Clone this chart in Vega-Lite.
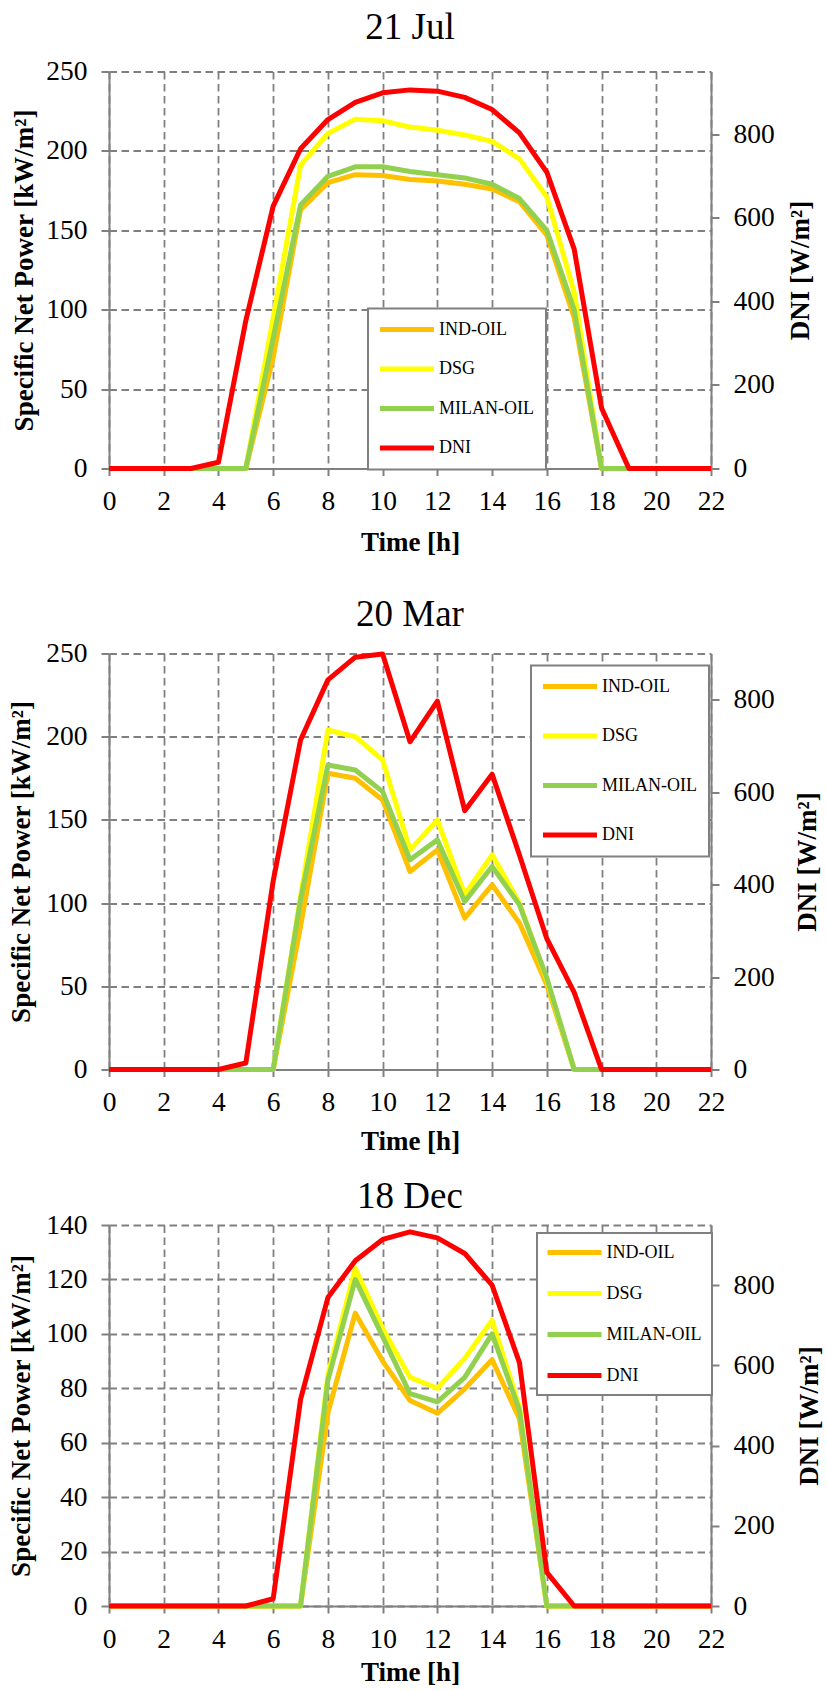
{
  "$schema": "https://vega.github.io/schema/vega-lite/v6.json",
  "background": "white",
  "padding": {"left": 7, "top": 8.5, "right": 5, "bottom": 0},
  "config": {
    "font": "Liberation Serif",
    "view": {"stroke": null},
    "style": {"guide-label": {"font": "Liberation Serif"}, "guide-title": {"font": "Liberation Serif"}},
    "axis": {
      "labelFont": "Liberation Serif", "labelFontSize": 27.5, "labelColor": "black",
      "titleFont": "Liberation Serif", "titleFontSize": 27, "titleFontWeight": "bold", "titleColor": "black",
      "domainColor": "#808080", "domainWidth": 2, "tickColor": "#808080", "tickWidth": 2,
      "gridColor": "#808080", "gridWidth": 1.8, "gridDash": [7.5, 4.5], "gridOpacity": 1,
      "labelFlush": false, "labelOverlap": false
    },
    "title": {"font": "Liberation Serif", "fontSize": 37, "fontWeight": "normal", "color": "black", "frame": "group", "baseline": "alphabetic", "anchor": "middle"},
    "legend": {
      "orient": "none", "title": null, "symbolType": "M-5,0H5", "symbolSize": 116.6, "symbolStrokeWidth": 5,
      "symbolOffset": 18, "labelOffset": 23, "labelFont": "Liberation Serif", "labelFontSize": 18, "labelColor": "black",
      "fillColor": "white", "strokeColor": "#808080", "strokeWidth": 2
    },
    "line": {"strokeWidth": 5, "strokeJoin": "round"}
  },
  "datasets": {
    "jul": [
      {"hour": 0, "IND-OIL": 0, "DSG": 0, "MILAN-OIL": 0, "DNI": 0},
      {"hour": 1, "IND-OIL": 0, "DSG": 0, "MILAN-OIL": 0, "DNI": 0},
      {"hour": 2, "IND-OIL": 0, "DSG": 0, "MILAN-OIL": 0, "DNI": 0},
      {"hour": 3, "IND-OIL": 0, "DSG": 0, "MILAN-OIL": 0, "DNI": 0},
      {"hour": 4, "IND-OIL": 0, "DSG": 0, "MILAN-OIL": 0, "DNI": 15},
      {"hour": 5, "IND-OIL": 0, "DSG": 0, "MILAN-OIL": 0, "DNI": 354},
      {"hour": 6, "IND-OIL": 70, "DSG": 95, "MILAN-OIL": 82, "DNI": 628},
      {"hour": 7, "IND-OIL": 163, "DSG": 191, "MILAN-OIL": 166, "DNI": 765},
      {"hour": 8, "IND-OIL": 180, "DSG": 211, "MILAN-OIL": 184, "DNI": 835},
      {"hour": 9, "IND-OIL": 185, "DSG": 220, "MILAN-OIL": 190, "DNI": 876},
      {"hour": 10, "IND-OIL": 184.5, "DSG": 219, "MILAN-OIL": 190, "DNI": 899},
      {"hour": 11, "IND-OIL": 182, "DSG": 215, "MILAN-OIL": 187, "DNI": 906},
      {"hour": 12, "IND-OIL": 181, "DSG": 213, "MILAN-OIL": 185, "DNI": 903},
      {"hour": 13, "IND-OIL": 179, "DSG": 210, "MILAN-OIL": 183, "DNI": 888},
      {"hour": 14, "IND-OIL": 176, "DSG": 206, "MILAN-OIL": 179, "DNI": 859},
      {"hour": 15, "IND-OIL": 168, "DSG": 195, "MILAN-OIL": 170, "DNI": 803},
      {"hour": 16, "IND-OIL": 147, "DSG": 171, "MILAN-OIL": 150, "DNI": 709},
      {"hour": 17, "IND-OIL": 95, "DSG": 111, "MILAN-OIL": 100, "DNI": 525},
      {"hour": 18, "IND-OIL": 0, "DSG": 0, "MILAN-OIL": 0, "DNI": 145},
      {"hour": 19, "IND-OIL": 0, "DSG": 0, "MILAN-OIL": 0, "DNI": 0},
      {"hour": 20, "IND-OIL": 0, "DSG": 0, "MILAN-OIL": 0, "DNI": 0},
      {"hour": 21, "IND-OIL": 0, "DSG": 0, "MILAN-OIL": 0, "DNI": 0},
      {"hour": 22, "IND-OIL": 0, "DSG": 0, "MILAN-OIL": 0, "DNI": 0}
    ],
    "mar": [
      {"hour": 0, "IND-OIL": 0, "DSG": 0, "MILAN-OIL": 0, "DNI": 0},
      {"hour": 1, "IND-OIL": 0, "DSG": 0, "MILAN-OIL": 0, "DNI": 0},
      {"hour": 2, "IND-OIL": 0, "DSG": 0, "MILAN-OIL": 0, "DNI": 0},
      {"hour": 3, "IND-OIL": 0, "DSG": 0, "MILAN-OIL": 0, "DNI": 0},
      {"hour": 4, "IND-OIL": 0, "DSG": 0, "MILAN-OIL": 0, "DNI": 0},
      {"hour": 5, "IND-OIL": 0, "DSG": 0, "MILAN-OIL": 0, "DNI": 14},
      {"hour": 6, "IND-OIL": 0, "DSG": 0, "MILAN-OIL": 0, "DNI": 408},
      {"hour": 7, "IND-OIL": 86, "DSG": 104, "MILAN-OIL": 102, "DNI": 713},
      {"hour": 8, "IND-OIL": 178, "DSG": 204, "MILAN-OIL": 183, "DNI": 843},
      {"hour": 9, "IND-OIL": 175, "DSG": 200, "MILAN-OIL": 180, "DNI": 892},
      {"hour": 10, "IND-OIL": 162, "DSG": 186, "MILAN-OIL": 167, "DNI": 899},
      {"hour": 11, "IND-OIL": 119, "DSG": 132, "MILAN-OIL": 126, "DNI": 709},
      {"hour": 12, "IND-OIL": 132, "DSG": 150, "MILAN-OIL": 138, "DNI": 797},
      {"hour": 13, "IND-OIL": 91, "DSG": 105, "MILAN-OIL": 101, "DNI": 560},
      {"hour": 14, "IND-OIL": 111, "DSG": 129, "MILAN-OIL": 122, "DNI": 639},
      {"hour": 15, "IND-OIL": 88, "DSG": 100, "MILAN-OIL": 99, "DNI": 464},
      {"hour": 16, "IND-OIL": 51, "DSG": 54, "MILAN-OIL": 55, "DNI": 283},
      {"hour": 17, "IND-OIL": 0, "DSG": 0, "MILAN-OIL": 0, "DNI": 167},
      {"hour": 18, "IND-OIL": 0, "DSG": 0, "MILAN-OIL": 0, "DNI": 0},
      {"hour": 19, "IND-OIL": 0, "DSG": 0, "MILAN-OIL": 0, "DNI": 0},
      {"hour": 20, "IND-OIL": 0, "DSG": 0, "MILAN-OIL": 0, "DNI": 0},
      {"hour": 21, "IND-OIL": 0, "DSG": 0, "MILAN-OIL": 0, "DNI": 0},
      {"hour": 22, "IND-OIL": 0, "DSG": 0, "MILAN-OIL": 0, "DNI": 0}
    ],
    "dec": [
      {"hour": 0, "IND-OIL": 0, "DSG": 0, "MILAN-OIL": 0, "DNI": 0},
      {"hour": 1, "IND-OIL": 0, "DSG": 0, "MILAN-OIL": 0, "DNI": 0},
      {"hour": 2, "IND-OIL": 0, "DSG": 0, "MILAN-OIL": 0, "DNI": 0},
      {"hour": 3, "IND-OIL": 0, "DSG": 0, "MILAN-OIL": 0, "DNI": 0},
      {"hour": 4, "IND-OIL": 0, "DSG": 0, "MILAN-OIL": 0, "DNI": 0},
      {"hour": 5, "IND-OIL": 0, "DSG": 0, "MILAN-OIL": 0, "DNI": 0},
      {"hour": 6, "IND-OIL": 0, "DSG": 0, "MILAN-OIL": 0, "DNI": 18},
      {"hour": 7, "IND-OIL": 0, "DSG": 0, "MILAN-OIL": 0, "DNI": 515},
      {"hour": 8, "IND-OIL": 71, "DSG": 85, "MILAN-OIL": 83, "DNI": 769},
      {"hour": 9, "IND-OIL": 107.6, "DSG": 124, "MILAN-OIL": 120, "DNI": 861},
      {"hour": 10, "IND-OIL": 90, "DSG": 102, "MILAN-OIL": 99, "DNI": 914},
      {"hour": 11, "IND-OIL": 75.5, "DSG": 84, "MILAN-OIL": 78, "DNI": 933},
      {"hour": 12, "IND-OIL": 70.8, "DSG": 80, "MILAN-OIL": 75, "DNI": 918},
      {"hour": 13, "IND-OIL": 79.8, "DSG": 91, "MILAN-OIL": 84, "DNI": 879},
      {"hour": 14, "IND-OIL": 90.5, "DSG": 105, "MILAN-OIL": 100, "DNI": 800},
      {"hour": 15, "IND-OIL": 68.8, "DSG": 73, "MILAN-OIL": 72, "DNI": 607},
      {"hour": 16, "IND-OIL": 0, "DSG": 0, "MILAN-OIL": 0, "DNI": 84},
      {"hour": 17, "IND-OIL": 0, "DSG": 0, "MILAN-OIL": 0, "DNI": 0},
      {"hour": 18, "IND-OIL": 0, "DSG": 0, "MILAN-OIL": 0, "DNI": 0},
      {"hour": 19, "IND-OIL": 0, "DSG": 0, "MILAN-OIL": 0, "DNI": 0},
      {"hour": 20, "IND-OIL": 0, "DSG": 0, "MILAN-OIL": 0, "DNI": 0},
      {"hour": 21, "IND-OIL": 0, "DSG": 0, "MILAN-OIL": 0, "DNI": 0},
      {"hour": 22, "IND-OIL": 0, "DSG": 0, "MILAN-OIL": 0, "DNI": 0}
    ]
  },
  "spacing": 40,
  "resolve": {"scale": {"x": "independent", "y": "independent", "color": "independent"}, "legend": {"color": "independent"}},
  "vconcat": [
    {
      "title": {"text": "21 Jul", "offset": 11},
      "width": 602, "height": 397,
      "data": {"name": "jul"},
      "layer": [
        {
          "transform": [{"fold": ["IND-OIL", "DSG", "MILAN-OIL"], "as": ["series", "value"]}],
          "mark": {"type": "line"},
          "encoding": {
            "x": {"field": "hour", "type": "quantitative", "scale": {"domain": [0, 22], "nice": false},
                  "axis": {"values": [0, 2, 4, 6, 8, 10, 12, 14, 16, 18, 20, 22], "title": "Time [h]", "labelFont": "Liberation Serif", "tickSize": 7, "labelPadding": 12, "titlePadding": 14.5}},
            "y": {"field": "value", "type": "quantitative", "scale": {"domain": [0, 250], "nice": false},
                  "axis": {"values": [0, 50, 100, 150, 200, 250], "title": "Specific Net Power [kW/m²]", "labelFont": "Liberation Serif", "tickSize": 8, "labelPadding": 14, "titlePadding": 7}},
            "color": {"field": "series", "type": "nominal",
                      "scale": {"domain": ["IND-OIL", "DSG", "MILAN-OIL", "DNI"], "range": ["#FFC000", "#FFFF00", "#92D050", "#FF0000"]},
                      "legend": {"legendX": 259, "legendY": 237, "rowPadding": 21.5, "padding": 12, "labelFont": "Liberation Serif", "encode": {"symbols": {"update": {"strokeCap": {"value": "round"}}}}}}
          }
        },
        {
          "transform": [{"fold": ["DNI"], "as": ["series", "value"]}],
          "mark": {"type": "line"},
          "encoding": {
            "x": {"field": "hour", "type": "quantitative"},
            "y": {"field": "value", "type": "quantitative", "scale": {"domain": [0, 950], "nice": false},
                  "axis": {"orient": "right", "values": [0, 200, 400, 600, 800], "grid": false, "title": "DNI [W/m²]", "labelFont": "Liberation Serif", "titleAngle": 270, "titleBaseline": "top", "tickSize": 8, "labelPadding": 14, "titlePadding": 13}},
            "color": {"field": "series", "type": "nominal"}
          }
        }
      ],
      "resolve": {"scale": {"y": "independent"}}
    },
    {
      "spacing": 23.5,
      "resolve": {"scale": {"x": "independent", "y": "independent", "color": "independent"}, "legend": {"color": "independent"}},
      "vconcat": [
        {
          "title": {"text": "20 Mar", "offset": 6},
          "width": 602, "height": 416,
          "data": {"name": "mar"},
          "layer": [
            {
              "transform": [{"fold": ["IND-OIL", "DSG", "MILAN-OIL"], "as": ["series", "value"]}],
              "mark": {"type": "line"},
              "encoding": {
                "x": {"field": "hour", "type": "quantitative", "scale": {"domain": [0, 22], "nice": false},
                      "axis": {"values": [0, 2, 4, 6, 8, 10, 12, 14, 16, 18, 20, 22], "title": "Time [h]", "labelFont": "Liberation Serif", "tickSize": 7, "labelPadding": 12, "titlePadding": 12}},
                "y": {"field": "value", "type": "quantitative", "scale": {"domain": [0, 250], "nice": false},
                      "axis": {"values": [0, 50, 100, 150, 200, 250], "title": "Specific Net Power [kW/m²]", "labelFont": "Liberation Serif", "tickSize": 8, "labelPadding": 14, "titlePadding": 10}},
                "color": {"field": "series", "type": "nominal",
                          "scale": {"domain": ["IND-OIL", "DSG", "MILAN-OIL", "DNI"], "range": ["#FFC000", "#FFFF00", "#92D050", "#FF0000"]},
                          "legend": {"legendX": 422, "legendY": 12, "rowPadding": 31.5, "padding": 12, "labelFont": "Liberation Serif", "encode": {"symbols": {"update": {"strokeCap": {"value": "round"}}}}}}
              }
            },
            {
              "transform": [{"fold": ["DNI"], "as": ["series", "value"]}],
              "mark": {"type": "line"},
              "encoding": {
                "x": {"field": "hour", "type": "quantitative"},
                "y": {"field": "value", "type": "quantitative", "scale": {"domain": [0, 900], "nice": false},
                      "axis": {"orient": "right", "values": [0, 200, 400, 600, 800], "grid": false, "title": "DNI [W/m²]", "labelFont": "Liberation Serif", "titleAngle": 270, "titleBaseline": "top", "tickSize": 8, "labelPadding": 14, "titlePadding": 20}},
                "color": {"field": "series", "type": "nominal"}
              }
            }
          ],
          "resolve": {"scale": {"y": "independent"}}
        },
        {
          "title": {"text": "18 Dec", "offset": -5},
          "width": 602, "height": 381,
          "data": {"name": "dec"},
          "layer": [
            {
              "transform": [{"fold": ["IND-OIL", "DSG", "MILAN-OIL"], "as": ["series", "value"]}],
              "mark": {"type": "line"},
              "encoding": {
                "x": {"field": "hour", "type": "quantitative", "scale": {"domain": [0, 22], "nice": false},
                      "axis": {"values": [0, 2, 4, 6, 8, 10, 12, 14, 16, 18, 20, 22], "title": "Time [h]", "labelFont": "Liberation Serif", "tickSize": 7, "labelPadding": 12, "titlePadding": 7}},
                "y": {"field": "value", "type": "quantitative", "scale": {"domain": [0, 140], "nice": false},
                      "axis": {"values": [0, 20, 40, 60, 80, 100, 120, 140], "title": "Specific Net Power [kW/m²]", "labelFont": "Liberation Serif", "tickSize": 8, "labelPadding": 14, "titlePadding": 10}},
                "color": {"field": "series", "type": "nominal",
                          "scale": {"domain": ["IND-OIL", "DSG", "MILAN-OIL", "DNI"], "range": ["#FFC000", "#FFFF00", "#92D050", "#FF0000"]},
                          "legend": {"legendX": 428, "legendY": 8, "rowPadding": 23, "padding": 10.5, "labelFont": "Liberation Serif", "encode": {"symbols": {"update": {"strokeCap": {"value": "round"}}}}}}
              }
            },
            {
              "transform": [{"fold": ["DNI"], "as": ["series", "value"]}],
              "mark": {"type": "line"},
              "encoding": {
                "x": {"field": "hour", "type": "quantitative"},
                "y": {"field": "value", "type": "quantitative", "scale": {"domain": [0, 950], "nice": false},
                      "axis": {"orient": "right", "values": [0, 200, 400, 600, 800], "grid": false, "title": "DNI [W/m²]", "labelFont": "Liberation Serif", "titleAngle": 270, "titleBaseline": "top", "tickSize": 8, "labelPadding": 14, "titlePadding": 22}},
                "color": {"field": "series", "type": "nominal"}
              }
            }
          ],
          "resolve": {"scale": {"y": "independent"}}
        }
      ]
    }
  ]
}
